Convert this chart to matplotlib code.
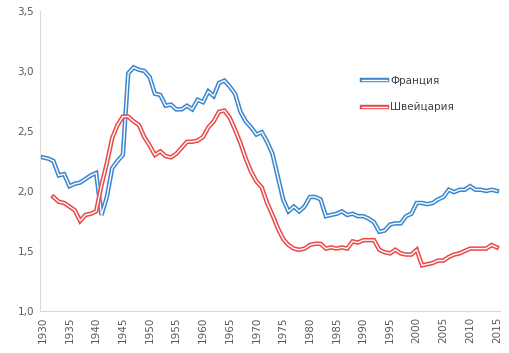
import numpy as np
import matplotlib
matplotlib.use('Agg')
import matplotlib.pyplot as plt
from matplotlib.lines import Line2D

# годы и суммарный коэффициент рождаемости
years_fr = list(range(1930, 2016))
france = [2.28, 2.27, 2.25, 2.13, 2.14, 2.04, 2.06, 2.07, 2.10, 2.13,
          2.15, 1.80, 1.95, 2.19, 2.25, 2.30, 2.98, 3.03, 3.01, 3.00,
          2.95, 2.81, 2.80, 2.71, 2.72, 2.68, 2.68, 2.71, 2.68, 2.76,
          2.74, 2.83, 2.79, 2.90, 2.92, 2.87, 2.81, 2.66, 2.58, 2.53,
          2.47, 2.49, 2.41, 2.31, 2.12, 1.93, 1.83, 1.87, 1.83, 1.87,
          1.95, 1.95, 1.93, 1.79, 1.80, 1.81, 1.83, 1.80, 1.81, 1.79,
          1.79, 1.77, 1.74, 1.66, 1.67, 1.72, 1.73, 1.73, 1.79, 1.81,
          1.90, 1.90, 1.89, 1.90, 1.93, 1.95, 2.01, 1.99, 2.01, 2.01,
          2.04, 2.01, 2.01, 2.00, 2.01, 2.00]

years_ch = list(range(1932, 2016))
swiss = [1.95, 1.91, 1.90, 1.87, 1.84, 1.75, 1.80, 1.81, 1.83,
         2.05, 2.23, 2.44, 2.55, 2.62, 2.62, 2.58, 2.55, 2.45,
         2.38, 2.30, 2.33, 2.29, 2.28, 2.31, 2.36, 2.41, 2.41, 2.42,
         2.45, 2.53, 2.58, 2.66, 2.67, 2.61, 2.51, 2.40, 2.27, 2.16,
         2.08, 2.03, 1.90, 1.80, 1.69, 1.60, 1.55, 1.52, 1.51, 1.52,
         1.55, 1.56, 1.56, 1.52, 1.53, 1.52, 1.53, 1.52, 1.58, 1.57,
         1.59, 1.59, 1.59, 1.51, 1.49, 1.48, 1.51, 1.48, 1.47, 1.47,
         1.51, 1.38, 1.39, 1.40, 1.42, 1.42, 1.45, 1.47, 1.48, 1.50,
         1.52, 1.52, 1.52, 1.52, 1.55, 1.53]

labels = ['Франция', 'Швейцария']
colors = ['#3a86cf', '#e8494b']

fig = plt.figure(figsize=(5.10, 3.53), dpi=100)
ax = fig.add_axes([0.0775, 0.119, 0.903, 0.850])

handles = []
for x, y, c in [(years_fr, france, colors[0]), (years_ch, swiss, colors[1])]:
    ax.plot(x, y, color=c, lw=3.2, solid_joinstyle='miter')
    ax.plot(x, y, color='white', lw=1.0, solid_joinstyle='miter')
    handles.append((Line2D([], [], color=c, lw=3.2), Line2D([], [], color='white', lw=1.0)))

ax.set_xlim(1929.4, 2015.6)
ax.set_ylim(1.0, 3.5)
ax.set_xticks(range(1930, 2016, 5))
ax.set_xticklabels([str(y) for y in range(1930, 2016, 5)], rotation=90)
yt = np.arange(1.0, 3.51, 0.5)
ax.set_yticks(yt)
ax.set_yticklabels([f'{v:.1f}'.replace('.', ',') for v in yt])
ax.tick_params(length=0, labelsize=7.5, colors='#595959', pad=4)

for s in ['top', 'right']:
    ax.spines[s].set_visible(False)
for s in ['left', 'bottom']:
    ax.spines[s].set_color('#d9d9d9')

leg = ax.legend(handles, labels, loc='upper left', bbox_to_anchor=(0.68, 0.815),
                frameon=False, fontsize=7.5, labelspacing=1.6, handlelength=2.4,
                handletextpad=0.3)
for t in leg.get_texts():
    t.set_color('#404040')

fig.savefig('out.png', dpi=100)
